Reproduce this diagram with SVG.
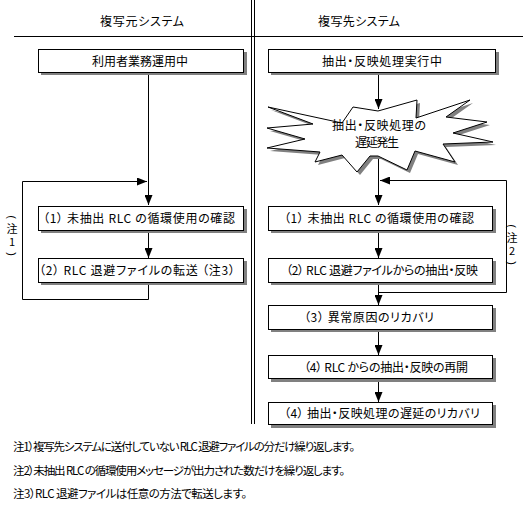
<svg xmlns="http://www.w3.org/2000/svg" width="523" height="508" viewBox="0 0 523 508">
<style>
text{font-family:"Noto Sans CJK JP","Noto Sans",sans-serif;font-size:12px;fill:#000;font-feature-settings:"palt" 1}
.box{fill:#fff;stroke:#000;stroke-width:1}
.sh{fill:#808080}
.c{text-anchor:middle}
.ln{fill:none;stroke:#000;stroke-width:1}
.arr{fill:none;stroke:#000;stroke-width:1;marker-end:url(#ah)}
.v{font-size:11px;text-anchor:middle}
.p{font-size:11px;text-anchor:middle;dominant-baseline:central;font-family:"Liberation Sans",sans-serif}
.n{font-size:11.5px}
</style>
<defs>
<marker id="ah" markerUnits="userSpaceOnUse" markerWidth="10" markerHeight="8" refX="10" refY="4" orient="auto" viewBox="0 0 10 8">
<path d="M0,0 L10,4 L0,8 z" fill="#000"/>
</marker>
</defs>
<rect width="523" height="508" fill="#fff"/>
<g id="frame">
<line class="ln" x1="14" y1="36.5" x2="523" y2="36.5"/>
<line class="ln" x1="251.5" y1="0" x2="251.5" y2="424"/>
<line class="ln" x1="254.5" y1="0" x2="254.5" y2="424"/>
<text class="c" x="142" y="26" textLength="84">複写元システム</text>
<text class="c" x="359" y="26" textLength="82">複写先システム</text>
</g>
<g id="connectors">
<path class="arr" d="M148.5,73 V205"/>
<path class="arr" d="M148.5,232 V258"/>
<path class="arr" d="M148.5,283 V299.5 H22.5 V181.5 H147"/>
<path class="arr" d="M378.5,73 V109"/>
<path class="arr" d="M378.5,155 V205"/>
<path class="arr" d="M378.5,232 V258"/>
<path class="arr" d="M378.5,283 V305"/>
<path class="arr" d="M378.5,292.5 H506.5 V180.5 H380"/>
<path class="arr" d="M378.5,330 V355"/>
<path class="arr" d="M378.5,379 V402"/>
</g>
<g id="n-left-0">
<rect class="sh" x="41" y="52" width="206" height="23"/>
<rect class="box" x="38.5" y="49.5" width="205" height="23"/>
<text class="c" x="140" y="65.5" textLength="96">利用者業務運用中</text>
</g>
<g id="n-left-1">
<rect class="sh" x="41" y="209" width="206" height="24"/>
<rect class="box" x="38.5" y="206.5" width="205" height="24"/>
<text class="c" x="139" y="223" textLength="192">（1） 未抽出 RLC の循環使用の確認</text>
</g>
<g id="n-left-2">
<rect class="sh" x="41" y="261" width="206" height="24"/>
<rect class="box" x="38.5" y="258.5" width="205" height="24"/>
<text class="c" x="137" y="275" textLength="196">（2） RLC 退避ファイルの転送 （注3）</text>
</g>
<g id="note1-label">
<text class="p" x="12" y="217" transform="rotate(90 12 217)">(</text>
<text class="v" x="12" y="233">注</text>
<text class="v" x="12" y="246">1</text>
<text class="p" x="12" y="254" transform="rotate(90 12 254)">)</text>
</g>
<g id="n-right-0">
<rect class="sh" x="271" y="52" width="228" height="23"/>
<rect class="box" x="268.5" y="49.5" width="227" height="23"/>
<text class="c" x="382" y="65.5" textLength="120">抽出・反映処理実行中</text>
</g>
<g id="n-burst">
<polygon class="sh" transform="translate(3,3)" points="268,107 313,124 267,128 305,139 267,148 320,152 315,162 342,155 357,172 370,156 378,156 407,170 415,151 455,162 443,144 493,142 453,133 487,122 446,117 470,100 416,118 417,100 378,111 353,107 342,123"/>
<polygon class="box" points="268,107 313,124 267,128 305,139 267,148 320,152 315,162 342,155 357,172 370,156 378,156 407,170 415,151 455,162 443,144 493,142 453,133 487,122 446,117 470,100 416,118 417,100 378,111 353,107 342,123"/>
<text class="c" x="379" y="130" textLength="94">抽出・反映処理の</text>
<text class="c" x="377" y="147" textLength="44">遅延発生</text>
</g>
<g id="n-right-1">
<rect class="sh" x="271" y="209" width="225" height="24"/>
<rect class="box" x="268.5" y="206.5" width="224" height="24"/>
<text class="c" x="379" y="223" textLength="190">（1） 未抽出 RLC の循環使用の確認</text>
</g>
<g id="n-right-2">
<rect class="sh" x="271" y="261" width="225" height="24"/>
<rect class="box" x="268.5" y="258.5" width="224" height="24"/>
<text class="c" x="382" y="275" textLength="192">（2） RLC 退避ファイルからの抽出・反映</text>
</g>
<g id="n-right-3">
<rect class="sh" x="271" y="308" width="225" height="24"/>
<rect class="box" x="268.5" y="305.5" width="224" height="24"/>
<text class="c" x="369" y="322" textLength="130">（3） 異常原因のリカバリ</text>
</g>
<g id="n-right-4">
<rect class="sh" x="271" y="358" width="225" height="24"/>
<rect class="box" x="268.5" y="355.5" width="224" height="23"/>
<text class="c" x="386" y="372" textLength="164">（4） RLC からの抽出・反映の再開</text>
</g>
<g id="n-right-5">
<rect class="sh" x="271" y="405" width="225" height="23"/>
<rect class="box" x="268.5" y="402.5" width="224" height="22"/>
<text class="c" x="382" y="418" textLength="196">（4） 抽出・反映処理の遅延のリカバリ</text>
</g>
<g id="note2-label">
<text class="p" x="512" y="226" transform="rotate(90 512 226)">(</text>
<text class="v" x="512" y="242">注</text>
<text class="v" x="512" y="255">2</text>
<text class="p" x="512" y="263" transform="rotate(90 512 263)">)</text>
</g>
<g id="notes">
<text class="n" x="13" y="451" textLength="342">注1）複写先システムに送付していない RLC 退避ファイルの分だけ繰り返します。</text>
<text class="n" x="13" y="475" textLength="332">注2）未抽出 RLC の循環使用メッセージが出力された数だけを繰り返します。</text>
<text class="n" x="13" y="498" textLength="234">注3）RLC 退避ファイルは任意の方法で転送します。</text>
</g>
</svg>
